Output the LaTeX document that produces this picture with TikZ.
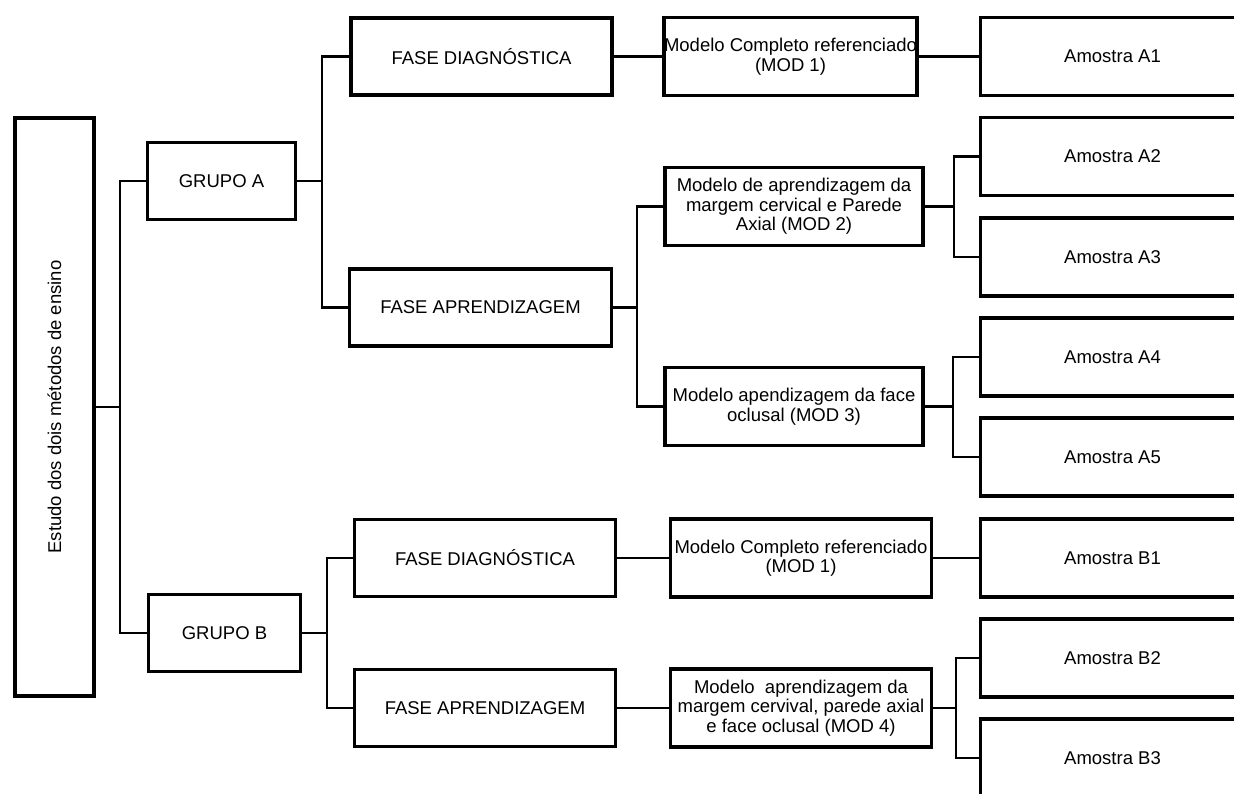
\documentclass[tikz,border=0pt]{standalone}
\usepackage{fontspec}
\setmainfont{Liberation Sans}
\begin{document}
\begin{tikzpicture}[x=1pt,y=-1pt,
  box/.style={draw=black, line width=3.6pt, fill=white, inner sep=0pt, align=center,
    font=\fontsize{18.5}{19.5}\selectfont},
  grp/.style={box, minimum width=148pt, minimum height=77pt},
  fase/.style={box, minimum width=261pt, minimum height=77pt},
  modbox/.style={box, minimum width=258pt, minimum height=78pt},
  amo/.style={box, minimum width=279pt, minimum height=78pt},
  conn/.style={draw=black, line width=2.3pt}]
\useasboundingbox (0,0) rectangle (1234,793);
\clip (0,0) rectangle (1234,793);
% root
\node[box, minimum width=79pt, minimum height=578pt] (root) at (54.5,407) {\rotatebox{90}{Estudo dos dois métodos de ensino}};
% groups
\node[grp] (GA) at (221.5,181) {GRUPO A};
\node[grp, minimum width=152pt] (GB) at (224.5,633) {GRUPO B};
% phases
\node[fase] (FDA) at (481.5,56.5) {FASE DIAGNÓSTICA};
\node[fase, minimum width=262pt] (FAA) at (480.5,307.5) {FASE APRENDIZAGEM};
\node[fase] (FDB) at (485,558) {FASE DIAGNÓSTICA};
\node[fase] (FAB) at (485,708) {FASE APRENDIZAGEM};
% models
\node[modbox, minimum width=253pt] (M1A) at (790.5,56.5) {Modelo Completo referenciado\\(MOD 1)};
\node[modbox] (M2A) at (794,206.5) {Modelo de aprendizagem da\\margem cervical e Parede\\Axial (MOD 2)};
\node[modbox] (M3A) at (794,406.5) {Modelo apendizagem da face\\oclusal (MOD 3)};
\node[modbox, minimum width=261pt] (M1B) at (801,558) {Modelo Completo referenciado\\(MOD 1)};
\node[modbox, minimum width=261pt] (M4B) at (801,708) {Modelo\ \ aprendizagem da\\margem cervival, parede axial\\e face oclusal (MOD 4)};
% samples
\node[amo] (A1) at (1120,56.5) {\hspace*{-15pt}Amostra A1};
\node[amo] (A2) at (1120,156.5) {\hspace*{-15pt}Amostra A2};
\node[amo] (A3) at (1120,257) {\hspace*{-15pt}Amostra A3};
\node[amo] (A4) at (1120,357) {\hspace*{-15pt}Amostra A4};
\node[amo] (A5) at (1120,457) {\hspace*{-15pt}Amostra A5};
\node[amo] (B1) at (1120,558) {\hspace*{-15pt}Amostra B1};
\node[amo] (B2) at (1120,658) {\hspace*{-15pt}Amostra B2};
\node[amo] (B3) at (1120,758) {\hspace*{-15pt}Amostra B3};
% bracket points
\coordinate (b0) at (120,407);
\coordinate (b1) at (322,181);
\coordinate (b2) at (327,633);
\coordinate (b3) at (637,307.5);
\coordinate (b4) at (954,206.5);
\coordinate (b5) at (953,406.5);
\coordinate (b6) at (956,708);
% connectors
\draw[conn] (GA.west) -| (b0) |- (GB.west);
\draw[conn] (root.east |- b0) -- (b0);
\draw[conn] (FDA.west) -| (b1) |- (FAA.west);
\draw[conn] (GA.east) -- (b1);
\draw[conn] (FDB.west) -| (b2) |- (FAB.west);
\draw[conn] (GB.east) -- (b2);
\draw[conn] (M2A.west) -| (b3) |- (M3A.west);
\draw[conn] (FAA.east) -- (b3);
\draw[conn] (FDA.east) -- (M1A.west);
\draw[conn] (M1A.east) -- (A1.west);
\draw[conn] (A2.west) -| (b4) |- (A3.west);
\draw[conn] (M2A.east) -- (b4);
\draw[conn] (A4.west) -| (b5) |- (A5.west);
\draw[conn] (M3A.east) -- (b5);
\draw[conn] (FDB.east) -- (M1B.west);
\draw[conn] (M1B.east) -- (B1.west);
\draw[conn] (FAB.east) -- (M4B.west);
\draw[conn] (B2.west) -| (b6) |- (B3.west);
\draw[conn] (M4B.east) -- (b6);
\end{tikzpicture}
\end{document}
